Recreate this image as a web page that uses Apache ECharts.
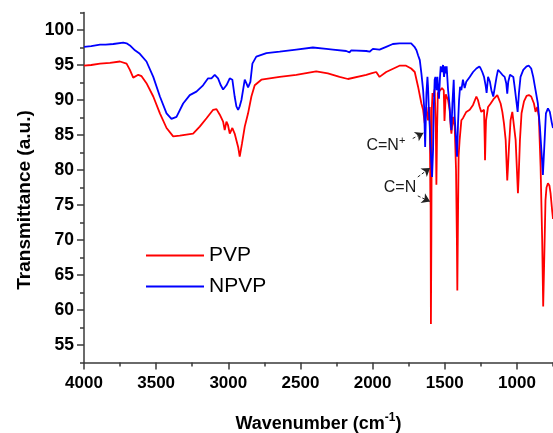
<!DOCTYPE html>
<html>
<head>
<meta charset="utf-8">
<script src="https://cdn.jsdelivr.net/npm/echarts@6/dist/echarts.min.js"></script>
<style>
html,body{margin:0;padding:0;background:#fff;}
#chart{width:553px;height:433px;}
</style>
</head>
<body>
<div id="chart"></div>
<script>
// ---- data ----
const seriesNames = ['PVP', 'NPVP'];

const pvpWavenumber = [4000,3950,3889,3820,3751,3705,3682,3659,3624,3601,3567,3520,3474,3428,3382,3336,3244,3198,3151,3105,3082,3059,3036,3025,3013,3002,2990,2972,2956,2932,2921,2905,2886,2863,2840,2817,2771,2644,2529,2391,2310,2229,2171,2160,2044,2010,1975,1952,1906,1814,1768,1733,1708,1685,1662,1650,1639,1627,1616,1607,1604,1600,1598,1596,1593,1590,1585,1578,1570,1562,1558,1553,1548,1535,1519,1507,1502,1498,1493,1489,1477,1466,1459,1454,1443,1431,1422,1416,1413,1409,1404,1397,1385,1374,1351,1327,1304,1281,1270,1258,1247,1228,1223,1221,1217,1214,1200,1182,1159,1136,1124,1113,1101,1090,1078,1070,1067,1063,1055,1044,1032,1021,1009,1000,993,988,979,968,951,933,917,901,882,871,859,848,836,825,818,812,802,795,785,775,767,755,750];
const pvpTransmittance = [94.9,95.0,95.2,95.3,95.5,95.2,94.3,93.2,93.6,93.4,92.4,90.5,88.1,86.0,84.8,84.9,85.2,86.2,87.4,88.6,88.7,87.9,86.9,85.7,86.9,86.4,85.2,86.0,85.2,83.3,81.9,83.8,86.2,88.1,90.5,92.1,92.9,93.3,93.6,94.1,93.8,93.3,93.0,93.2,93.6,93.8,94.0,93.3,94.0,94.9,94.9,94.5,94.0,91.9,89.5,88.6,86.7,89.0,87.1,88.5,89.0,76.0,75.0,58.0,70.0,88.5,91.0,90.5,91.5,86.0,77.9,86.0,91.0,91.0,91.7,91.4,87.0,87.0,90.8,91.0,90.0,88.6,86.2,85.2,87.6,86.2,80.0,70.0,62.8,72.0,82.0,84.3,87.1,87.4,88.3,88.6,89.3,90.5,90.0,89.0,88.3,88.6,84.0,81.4,85.0,87.1,89.0,89.5,90.2,90.7,90.5,89.5,88.3,86.7,84.3,80.0,78.5,80.0,83.3,87.1,88.3,88.1,84.3,80.0,76.7,79.0,84.3,88.1,89.8,90.6,90.7,90.5,89.5,88.3,89.0,87.6,80.5,70.0,60.5,66.0,75.7,77.5,78.1,77.8,76.7,74.0,73.0];

const npvpWavenumber = [4000,3950,3889,3850,3797,3728,3705,3682,3647,3613,3567,3520,3474,3428,3394,3359,3313,3267,3221,3175,3140,3117,3094,3071,3052,3036,3013,2990,2972,2956,2944,2932,2921,2909,2886,2875,2863,2847,2833,2806,2736,2644,2529,2414,2321,2275,2183,2160,2148,2044,2021,1998,1952,1906,1860,1814,1733,1710,1696,1685,1673,1662,1650,1643,1639,1636,1632,1627,1620,1616,1611,1604,1600,1593,1588,1581,1576,1570,1565,1558,1551,1547,1540,1533,1528,1519,1512,1505,1498,1491,1487,1477,1468,1461,1454,1447,1438,1431,1422,1415,1408,1401,1394,1385,1374,1362,1351,1327,1304,1281,1260,1251,1240,1228,1217,1210,1200,1187,1177,1164,1154,1141,1131,1117,1101,1085,1074,1067,1060,1048,1037,1025,1016,1002,995,986,975,956,933,917,901,887,871,855,841,829,820,808,799,785,772,758,750];
const npvpTransmittance = [97.6,97.7,97.9,97.9,98.0,98.2,98.1,97.8,97.1,96.6,95.5,93.3,90.5,88.1,87.3,87.6,89.5,90.7,91.2,92.1,93.1,93.1,93.6,93.1,92.1,91.5,92.1,93.1,92.9,90.5,89.1,88.6,89.1,90.0,92.9,92.4,91.8,92.6,95.2,96.2,96.7,96.9,97.2,97.5,97.3,97.2,97.0,96.8,97.1,97.0,96.9,97.3,97.2,97.6,98.0,98.1,98.1,97.6,97.1,96.4,95.7,93.8,91.4,89.0,85.7,83.3,86.7,91.0,93.3,91.9,89.0,86.2,83.8,81.0,79.0,82.9,89.0,92.9,93.3,91.4,93.3,91.9,90.2,93.3,94.8,94.0,95.0,93.3,94.8,93.8,94.8,91.4,89.5,87.1,85.7,89.5,92.9,87.6,84.3,81.9,86.7,90.0,91.9,91.4,92.9,91.7,92.6,93.3,94.0,94.5,94.8,94.5,94.0,93.3,92.1,91.0,93.3,92.6,91.4,90.5,91.7,93.3,94.3,94.0,93.6,93.3,92.4,90.9,92.6,93.6,93.8,93.3,91.9,89.5,88.3,91.0,93.3,94.3,94.8,94.9,94.5,93.3,91.4,89.5,86.2,82.4,79.3,84.3,88.1,88.8,88.3,86.7,86.0];

const xMajorTicks = [4000,3500,3000,2500,2000,1500,1000];
const xMinorTicks = [3750,3250,2750,2250,1750,1250,750];
const yMajorTicks = [55,60,65,70,75,80,85,90,95,100];
const yMinorTicks = [52.5,57.5,62.5,67.5,72.5,77.5,82.5,87.5,92.5,97.5,102.5];

// annotation labels (data coordinates) and arrows (from -> to)
const annotationLabels = [
  {text: '{m|C=N}{s|+}', at: [1908, 83.6]},
  {text: '{m|C=N}', at: [1810, 77.6]}
];
const annotationArrows = [
  [[1722, 84.5], [1648, 85.3]],
  [[1687, 79.0], [1602, 80.3]],
  [[1687, 76.3], [1602, 75.5]]
];

// ---- chart ----
const FONT = '"Liberation Sans", Arial, sans-serif';
const pair = (xs, ys) => xs.map((x, i) => [x, ys[i]]);
const axisColor = '#3a3a3a';
const plain = v => String(v);

const chart = echarts.init(document.getElementById('chart'), null, {renderer: 'canvas'});
chart.setOption({
  animation: false,
  backgroundColor: '#ffffff',
  textStyle: {fontFamily: FONT},
  grid: {left: 84, right: 0, top: 12.5, bottom: 70.5, containLabel: false, outerBoundsMode: 'none'},
  legend: {
    data: seriesNames,
    orient: 'vertical',
    left: 141,
    top: 240,
    icon: 'rect',
    itemWidth: 58,
    itemHeight: 2,
    itemGap: 10,
    textStyle: {fontSize: 21, color: '#000', fontFamily: FONT}
  },
  xAxis: [{
    type: 'value', min: 750, max: 4000, inverse: true, position: 'bottom',
    axisLine: {show: true, onZero: false, lineStyle: {color: axisColor, width: 1.5}},
    axisTick: {show: true, customValues: xMajorTicks, length: 7, lineStyle: {color: axisColor, width: 1.5}},
    axisLabel: {customValues: xMajorTicks, formatter: plain, fontSize: 17, fontWeight: 'bold', color: '#000', margin: 12, fontFamily: FONT},
    splitLine: {show: false},
    name: '{a|Wavenumber (cm}{s|-1}{a|)}',
    nameLocation: 'middle',
    nameGap: 49,
    nameTextStyle: {
      fontFamily: FONT,
      rich: {
        a: {fontSize: 18, fontWeight: 'bold', color: '#000', fontFamily: FONT, lineHeight: 22, verticalAlign: 'bottom'},
        s: {fontSize: 12, fontWeight: 'bold', color: '#000', fontFamily: FONT, lineHeight: 22, verticalAlign: 'top'}
      }
    }
  }, {
    type: 'value', min: 750, max: 4000, inverse: true, position: 'bottom',
    axisLine: {show: false},
    axisTick: {show: true, customValues: xMinorTicks, length: 4, lineStyle: {color: axisColor, width: 1.5}},
    axisLabel: {show: false},
    splitLine: {show: false}
  }],
  yAxis: [{
    type: 'value', min: 52.5, max: 102.5, position: 'left',
    axisLine: {show: true, onZero: false, lineStyle: {color: axisColor, width: 1.5}},
    axisTick: {show: true, customValues: yMajorTicks, length: 7, lineStyle: {color: axisColor, width: 1.5}},
    axisLabel: {customValues: yMajorTicks, formatter: plain, fontSize: 17.5, fontWeight: 'bold', color: '#000', margin: 10, fontFamily: FONT},
    splitLine: {show: false},
    name: 'Transmittance (a.u.)',
    nameLocation: 'middle',
    nameGap: 50,
    nameTextStyle: {fontSize: 19, fontWeight: 'bold', color: '#000', fontFamily: FONT, padding: [0, 25, 0, 0]}
  }, {
    type: 'value', min: 52.5, max: 102.5, position: 'left',
    axisLine: {show: false},
    axisTick: {show: true, customValues: yMinorTicks, length: 4, lineStyle: {color: axisColor, width: 1.5}},
    axisLabel: {show: false},
    splitLine: {show: false}
  }],
  series: [{
    name: 'PVP', type: 'line', xAxisIndex: 0, yAxisIndex: 0,
    data: pair(pvpWavenumber, pvpTransmittance),
    showSymbol: false, symbol: 'none',
    lineStyle: {color: '#ff0000', width: 1.8},
    itemStyle: {color: '#ff0000'}
  }, {
    name: 'NPVP', type: 'line', xAxisIndex: 0, yAxisIndex: 0,
    data: pair(npvpWavenumber, npvpTransmittance),
    showSymbol: false, symbol: 'none',
    lineStyle: {color: '#0000ff', width: 1.8},
    itemStyle: {color: '#0000ff'},
    markLine: {
      silent: true, animation: false,
      symbol: ['none', 'arrow'], symbolSize: 8,
      label: {show: false},
      itemStyle: {color: '#111'},
      lineStyle: {color: '#222', width: 1, type: [3, 2]},
      emphasis: {disabled: true},
      data: annotationArrows.map(a => [{coord: a[0]}, {coord: a[1]}])
    },
    markPoint: {
      silent: true, animation: false,
      symbol: 'circle', symbolSize: 0,
      itemStyle: {color: 'transparent'},
      label: {
        show: true, position: 'inside',
        formatter: p => p.data.text,
        rich: {
          m: {fontSize: 16, color: '#1a1a1a', fontFamily: FONT, lineHeight: 18, verticalAlign: 'bottom'},
          s: {fontSize: 11, color: '#1a1a1a', fontFamily: FONT, lineHeight: 18, verticalAlign: 'top'}
        }
      },
      data: annotationLabels.map(a => ({coord: a.at, text: a.text, value: 0}))
    }
  }]
});
</script>
</body>
</html>
